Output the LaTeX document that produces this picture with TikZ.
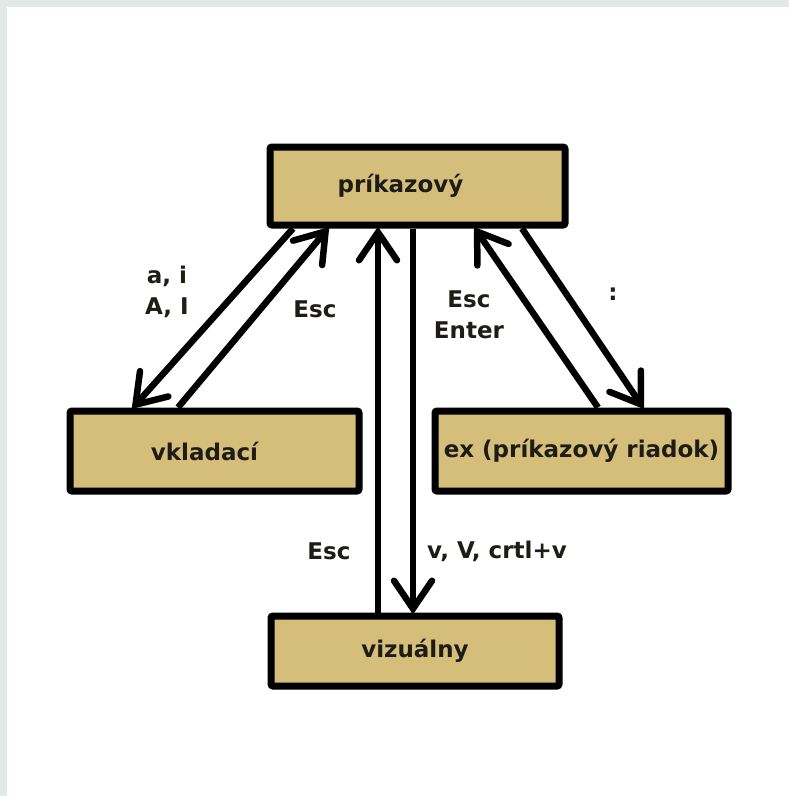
\documentclass[tikz,border=0pt]{standalone}
\usepackage{fontspec}
\setmainfont{DejaVu Sans}
\usepackage{tikz}
\usetikzlibrary{arrows.meta,positioning}
\usepackage{xcolor}
\definecolor{vimtan}{RGB}{213,189,122}
\definecolor{vimtext}{RGB}{30,28,22}
\definecolor{vimframe}{RGB}{226,234,231}
\tikzstyle{mode} = [rectangle, rounded corners=2pt, draw=black, line width=7pt, fill=vimtan, minimum height=80pt]
\tikzstyle{trans} = [line width=6.5pt, -{Straight Barb[length=28pt,width=38pt,line cap=round]}, shorten >=-2pt]

\begin{document}
\begin{tikzpicture}[
    x=1pt, y=-1pt,
    every node/.style={font=\fontsize{23}{31}\selectfont\bfseries, text=vimtext},
    keys/.style={align=center}
]
\useasboundingbox (0,0) rectangle (789,796);

% Frame
\fill[vimframe] (0,0) rectangle (789,7);
\fill[vimframe] (0,0) rectangle (7,796);

% Modes
\node[mode, minimum width=295pt, minimum height=78pt, label={[xshift=-17pt]center:príkazový}] (prik) at (417.5,186) {};
\node[mode, minimum width=289pt, label={[xshift=-10pt]center:vkladací}] (vklad) at (214.5,451) {};
\node[mode, minimum width=293pt] (ex) at (581.5,451) {ex (príkazový riadok)};
\node[mode, minimum width=288pt, minimum height=70pt] (viz) at (415,651) {vizuálny};

% Transitions
\draw[trans] ([xshift=26.5pt]prik.south west) -- ([xshift=66.5pt]vklad.north west);
\draw[trans] ([xshift=111.5pt]vklad.north west) -- ([xshift=61.5pt]prik.south west);
\draw[trans] ([xshift=166.5pt]ex.north west) -- ([xshift=208.5pt]prik.south west);
\draw[trans] ([xshift=255.5pt]prik.south west) -- ([xshift=211.5pt]ex.north west);
\draw[trans] ([xshift=110.5pt]viz.north west) -- ([xshift=111.5pt]prik.south west);
\draw[trans] ([xshift=146.5pt]prik.south west) -- ([xshift=145.5pt]viz.north west);

% Keys
\node[keys] (kins) at (167,292) {a, i\\A, I};
\node[keys] (kesc) at (315,309) {Esc};
\node[keys] (kexit) at (469,315) {Esc\\Enter};
\node[keys] (kcol) at (613,294) {:};
\node[keys] (kvesc) at (329,551) {Esc};
\node[keys] (kvis) at (497,551) {v, V, crtl+v};

\end{tikzpicture}
\end{document}
